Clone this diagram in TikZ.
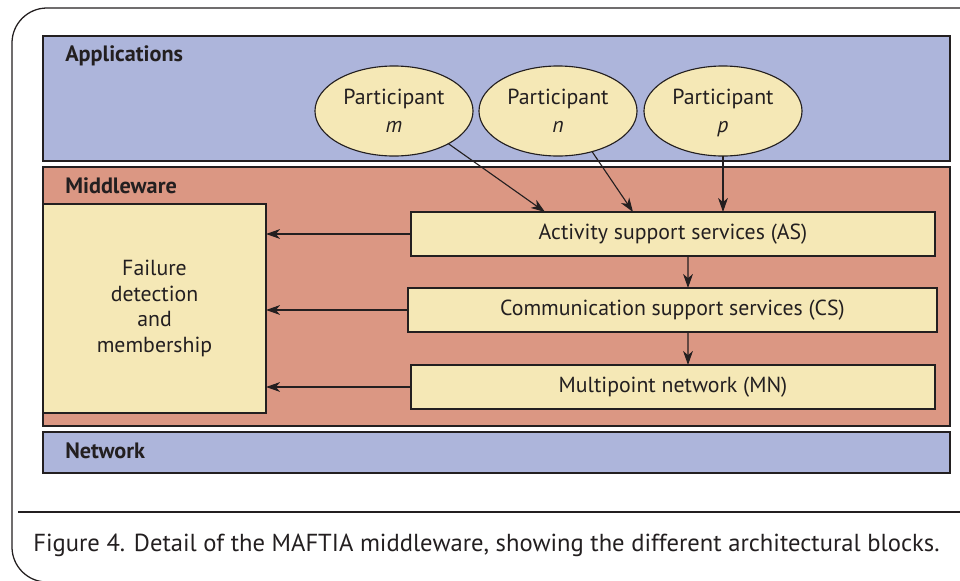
\documentclass[tikz,border=0pt]{standalone}
\usepackage{fontspec}
\setmainfont{PT Sans}
\usetikzlibrary{calc,shapes.geometric,arrows.meta}
\definecolor{appblue}{RGB}{173,181,219}
\definecolor{midred}{RGB}{219,151,131}
\definecolor{boxcream}{RGB}{245,232,182}
\definecolor{edge}{RGB}{35,31,32}

\begin{document}
\begin{tikzpicture}
[x=0.025cm,y=-0.025cm,
 layer/.style={rectangle,draw=edge,line width=1pt,inner sep=0pt,outer sep=0pt,minimum width=22.675cm},
 block/.style={rectangle,draw=edge,fill=boxcream,line width=1pt,inner sep=0pt,outer sep=0pt,minimum height=1.1cm,text=edge},
 party/.style={ellipse,draw=edge,fill=boxcream,line width=0.8pt,inner sep=0pt,outer sep=0pt,minimum width=3.95cm,minimum height=2.25cm,align=center,text=edge},
 title/.style={anchor=west,inner sep=0pt,font=\fontsize{15.8}{18}\selectfont\bfseries,text=edge},
 arr/.style={draw=edge,line width=0.8pt,-{Stealth[length=10pt,width=7pt,inset=3pt]}},
 every node/.append style={font=\fontsize{15.5}{18.2}\selectfont}]

\useasboundingbox (0,0) rectangle (960,580);

% outer frame and caption rule
\draw[edge,line width=0.9pt,rounded corners=0.875cm] (1000,8) -- (12,8) -- (12,582) -- (1000,582);
\draw[edge,line width=0.9pt] (18,512) -- (960,512);

% layers
\node (app) at (496.5,98.5) [layer,fill=appblue,minimum height=3.125cm] {};
\node (mid) at (496.5,296.5) [layer,fill=midred,minimum height=6.475cm] {};
\node (net) at (496.5,452.5) [layer,fill=appblue,minimum height=1.025cm] {};
\node (appl) at (65,56) [title] {Applications};
\node (midl) at (65,186) [title] {Middleware};
\node (netl) at (65,451) [title] {Network};

% participants
\node (pm) at (394,111) [party] {Participant\\[2pt]\textit{m}};
\node (pn) at (558,111) [party] {Participant\\[2pt]\textit{n}};
\node (pp) at (723,111) [party] {Participant\\[2pt]\smash{\textit{p}}};

% middleware blocks
\node (fd) at (154.5,308.5) [block,minimum width=5.575cm,minimum height=5.225cm,align=center]
  {Failure\\detection\\and\\membership};
\node (as) at (673,234) [block,minimum width=13.1cm] {Activity support services (AS)};
\node (cs) at (672.5,310) [block,minimum width=13.225cm] {Communication support services (CS)};
\node (mn) at (673,387) [block,minimum width=13.1cm] {Multipoint network (MN)};

\draw[arr] (pm.-31) -- ($(as.north)+(-128,0)$);
\draw[arr] (pn.-50) -- ($(as.north)+(-40,0)$);
\draw[arr] (pp.south) -- (pp.south |- as.north);
\draw[arr] ($(as.south)+(15,0)$) -- ($(cs.north)+(15.5,0)$);
\draw[arr] ($(cs.south)+(15.5,0)$) -- ($(mn.north)+(15,0)$);
\draw[arr] (as) -- (as -| fd.east);
\draw[arr] (cs.west) -- (cs.west -| fd.east);
\draw[arr] (mn.west) -- (mn.west -| fd.east);

\node (cap) at (33,545) [anchor=west,inner sep=0pt,text=edge,font=\fontsize{17.5}{20}\selectfont]
  {Figure 4. Detail of the MAFTIA middleware, showing the different architectural blocks.};
\end{tikzpicture}
\end{document}
